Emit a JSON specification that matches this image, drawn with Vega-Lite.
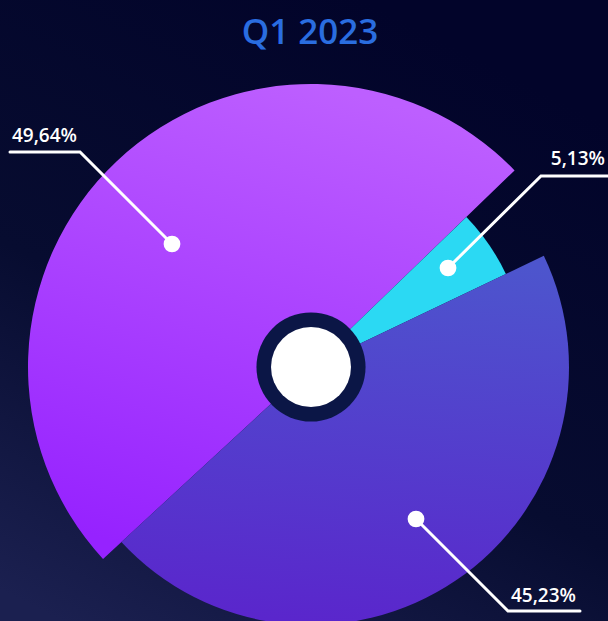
{
  "$schema": "https://vega.github.io/schema/vega-lite/v6.json",
  "width": 608,
  "height": 621,
  "autosize": {"type": "none"},
  "padding": 0,
  "background": "#03052a",
  "title": {"text": "Q1 2023", "font": "Open Sans", "fontSize": 35, "fontWeight": 600, "color": "#2a6de0", "anchor": "middle", "offset": -51, "dx": 6},
  "config": {
    "view": {"stroke": null, "fill": {"gradient": "linear", "x1": 0.6, "y1": 0, "x2": 0.1, "y2": 1, "stops": [{"offset": 0, "color": "#02042a"}, {"offset": 0.55, "color": "#070c30"}, {"offset": 1, "color": "#1b2050"}]}}
  },
  "datasets": {
    "shares": [
      {"segment": "Cyan", "share": 5.13, "order": 1},
      {"segment": "Blue", "share": 45.23, "order": 2},
      {"segment": "Purple", "share": 49.64, "order": 3}
    ],
    "leaders": [
      {"segment": "Purple", "step": 1, "x": -139, "y": 123},
      {"segment": "Purple", "step": 2, "x": -231, "y": 215},
      {"segment": "Purple", "step": 3, "x": -301, "y": 215},
      {"segment": "Cyan", "step": 1, "x": 137, "y": 99},
      {"segment": "Cyan", "step": 2, "x": 230, "y": 191},
      {"segment": "Cyan", "step": 3, "x": 297, "y": 191},
      {"segment": "Blue", "step": 1, "x": 105, "y": -152},
      {"segment": "Blue", "step": 2, "x": 197, "y": -244},
      {"segment": "Blue", "step": 3, "x": 269, "y": -244}
    ],
    "labels": [
      {"segment": "Purple", "label": "49,64%", "x": -234, "y": 225},
      {"segment": "Cyan", "label": "5,13%", "x": 294, "y": 202},
      {"segment": "Blue", "label": "45,23%", "x": 265, "y": -235}
    ],
    "center": [{"x": 0, "y": 0}]
  },
  "layer": [
    {
      "data": {"name": "shares"},
      "transform": [
        {"stack": "share", "groupby": [], "sort": [{"field": "order", "order": "ascending"}], "as": ["v0", "v1"]},
        {"filter": "datum.segment === 'Purple'"}
      ],
      "mark": {"type": "arc", "radius": 283, "color": {"gradient": "linear", "x1": 0.6, "y1": 0, "x2": 0.3, "y2": 1, "stops": [{"offset": 0, "color": "#bd5fff"}, {"offset": 1, "color": "#9622ff"}]}},
      "encoding": {
        "theta": {"field": "v0", "type": "quantitative", "scale": {"domain": [0, 100], "range": [0.803, 7.086]}},
        "theta2": {"field": "v1"},
        "x": {"datum": 0, "type": "quantitative", "scale": {"domain": [-311, 297], "nice": false, "zero": false}, "axis": null},
        "y": {"datum": 0, "type": "quantitative", "scale": {"domain": [-254, 367], "nice": false, "zero": false}, "axis": null}
      }
    },
    {
      "data": {"name": "shares"},
      "transform": [
        {"stack": "share", "groupby": [], "sort": [{"field": "order", "order": "ascending"}], "as": ["v0", "v1"]},
        {"filter": "datum.segment === 'Cyan'"}
      ],
      "mark": {"type": "arc", "radius": 216, "color": "#2bd9f3"},
      "encoding": {
        "theta": {"field": "v0", "type": "quantitative", "scale": {"domain": [0, 100], "range": [0.803, 7.086]}},
        "theta2": {"field": "v1"},
        "x": {"datum": 0, "type": "quantitative", "scale": {"domain": [-311, 297], "nice": false, "zero": false}, "axis": null},
        "y": {"datum": 0, "type": "quantitative", "scale": {"domain": [-254, 367], "nice": false, "zero": false}, "axis": null}
      }
    },
    {
      "data": {"name": "shares"},
      "transform": [
        {"stack": "share", "groupby": [], "sort": [{"field": "order", "order": "ascending"}], "as": ["v0", "v1"]},
        {"filter": "datum.segment === 'Blue'"}
      ],
      "mark": {"type": "arc", "radius": 258, "color": {"gradient": "linear", "x1": 0.6, "y1": 0, "x2": 0.5, "y2": 1, "stops": [{"offset": 0, "color": "#4d55cd"}, {"offset": 1, "color": "#5a26cc"}]}},
      "encoding": {
        "theta": {"field": "v0", "type": "quantitative", "scale": {"domain": [0, 100], "range": [0.803, 7.086]}},
        "theta2": {"field": "v1"},
        "x": {"datum": 0, "type": "quantitative", "scale": {"domain": [-311, 297], "nice": false, "zero": false}, "axis": null},
        "y": {"datum": 0, "type": "quantitative", "scale": {"domain": [-254, 367], "nice": false, "zero": false}, "axis": null}
      }
    },
    {
      "data": {"name": "center"},
      "mark": {"type": "point", "shape": "circle", "filled": true, "opacity": 1, "color": "#0b1646", "size": 11900},
      "encoding": {
        "x": {"field": "x", "type": "quantitative", "scale": {"domain": [-311, 297], "nice": false, "zero": false}, "axis": null},
        "y": {"field": "y", "type": "quantitative", "scale": {"domain": [-254, 367], "nice": false, "zero": false}, "axis": null}
      }
    },
    {
      "data": {"name": "center"},
      "mark": {"type": "point", "shape": "circle", "filled": true, "opacity": 1, "color": "#ffffff", "size": 6400},
      "encoding": {
        "x": {"field": "x", "type": "quantitative", "scale": {"domain": [-311, 297], "nice": false, "zero": false}, "axis": null},
        "y": {"field": "y", "type": "quantitative", "scale": {"domain": [-254, 367], "nice": false, "zero": false}, "axis": null}
      }
    },
    {
      "data": {"name": "leaders"},
      "mark": {"type": "line", "color": "#ffffff", "strokeWidth": 3, "strokeCap": "round"},
      "encoding": {
        "x": {"field": "x", "type": "quantitative", "scale": {"domain": [-311, 297], "nice": false, "zero": false}, "axis": null},
        "y": {"field": "y", "type": "quantitative", "scale": {"domain": [-254, 367], "nice": false, "zero": false}, "axis": null},
        "detail": {"field": "segment"},
        "order": {"field": "step"}
      }
    },
    {
      "data": {"name": "leaders"},
      "transform": [{"filter": "datum.step === 1"}],
      "mark": {"type": "point", "shape": "circle", "filled": true, "opacity": 1, "color": "#ffffff", "size": 280},
      "encoding": {
        "x": {"field": "x", "type": "quantitative", "scale": {"domain": [-311, 297], "nice": false, "zero": false}, "axis": null},
        "y": {"field": "y", "type": "quantitative", "scale": {"domain": [-254, 367], "nice": false, "zero": false}, "axis": null}
      }
    },
    {
      "data": {"name": "labels"},
      "mark": {"type": "text", "align": "right", "baseline": "alphabetic", "font": "Open Sans", "fontSize": 19, "fontWeight": 600, "color": "#ffffff"},
      "encoding": {
        "x": {"field": "x", "type": "quantitative", "scale": {"domain": [-311, 297], "nice": false, "zero": false}, "axis": null},
        "y": {"field": "y", "type": "quantitative", "scale": {"domain": [-254, 367], "nice": false, "zero": false}, "axis": null},
        "text": {"field": "label"}
      }
    }
  ]
}
